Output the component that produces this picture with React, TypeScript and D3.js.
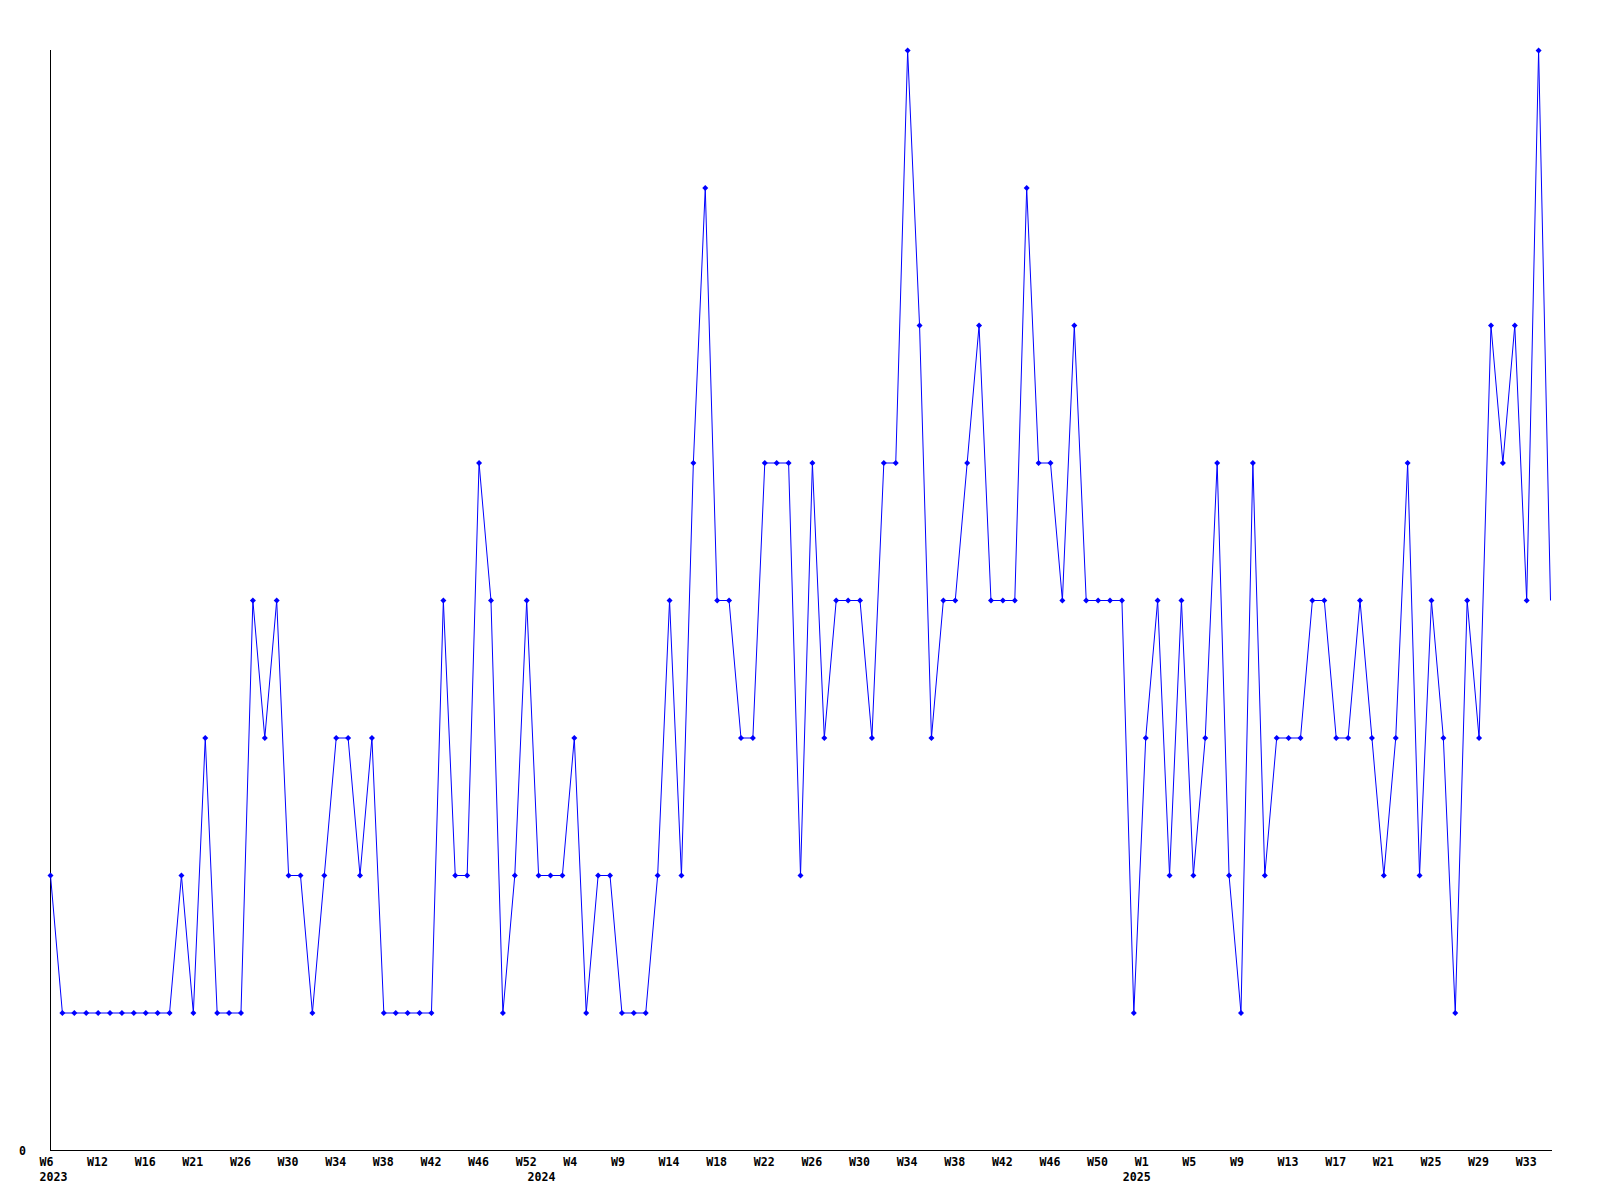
import React from "react";
import * as d3 from "d3";

const weeks2023 = [6, 7, 9, 10, 12, 13, 14, 15, 16, 17, 19, 20, 21, 22, 23, 25, 26, 27, 28, 29, 30, 31, 32, 33, 34, 35, 36, 37, 38, 39, 40, 41, 42, 43, 44, 45, 46, 47, 49, 51, 52];
const weeks2024 = [1, 2, 3, 4, 5, 6, 8, 9, 10, 11, 13, 14, 15, 16, 17, 18, 19, 20, 21, 22, 23, 24, 25, 26, 27, 28, 29, 30, 31, 32, 33, 34, 35, 36, 37, 38, 39, 40, 41, 42, 43, 44, 45, 46, 47, 48, 49, 50, 51, 52];
const weeks2025 = [0, 1, 2, 3, 4, 5, 6, 7, 8, 9, 10, 11, 12, 13, 14, 15, 16, 17, 18, 19, 20, 21, 22, 23, 24, 25, 26, 27, 28, 29, 30, 31, 32, 33, 34, 35];

const values = [
  2, 1, 1, 1, 1, 1, 1, 1, 1, 1, 1, 2, 1, 3, 1, 1, 1, 4, 3, 4,
  2, 2, 1, 2, 3, 3, 2, 3, 1, 1, 1, 1, 1, 4, 2, 2, 5, 4, 1, 2,
  4, 2, 2, 2, 3, 1, 2, 2, 1, 1, 1, 2, 4, 2, 5, 7, 4, 4, 3, 3,
  5, 5, 5, 2, 5, 3, 4, 4, 4, 3, 5, 5, 8, 6, 3, 4, 4, 5, 6, 4,
  4, 4, 7, 5, 5, 4, 6, 4, 4, 4, 4, 1, 3, 4, 2, 4, 2, 3, 5, 2,
  1, 5, 2, 3, 3, 3, 4, 4, 3, 3, 4, 3, 2, 3, 5, 2, 4, 3, 1, 4,
  3, 6, 5, 6, 4, 8, 4,
];

const yTicks = [0];
const labelEvery = 4;

type Pt = { week: string; year: number | null; value: number };

const points: Pt[] = [];
[
  [2023, weeks2023],
  [2024, weeks2024],
  [2025, weeks2025],
].forEach(([yr, wk]) => {
  (wk as number[]).forEach((w, j) => {
    points.push({ week: "W" + w, year: j === 0 ? (yr as number) : null, value: 0 });
  });
});
points.forEach((p, i) => (p.value = values[i]));

const W = 1600;
const H = 1200;
const left = 50.5;
const right = 1550.5;
const top = 50.5;
const bottom = 1150.5;

export default function App() {
  const x = d3.scaleLinear().domain([0, points.length - 1]).range([left, right]);
  const y = d3.scaleLinear().domain([0, 8]).range([bottom, top]);
  const line = d3
    .line<Pt>()
    .x((_, i) => x(i))
    .y((d) => y(d.value));
  const font = "'DejaVu Sans Mono', monospace";
  const diamond = (cx: number, cy: number) =>
    `M${cx},${cy - 3}L${cx + 3},${cy}L${cx},${cy + 3}L${cx - 3},${cy}Z`;
  return (
    <svg
      width={W}
      height={H}
      style={{ position: "absolute", left: 0, top: 0, background: "#fff" }}
    >
      <rect x={0} y={0} width={W} height={H} fill="#fff" />
      <line x1={left} y1={top - 0.5} x2={left} y2={bottom} stroke="#000" strokeWidth={1} shapeRendering="crispEdges" />
      <line x1={left} y1={bottom} x2={right + 1} y2={bottom} stroke="#000" strokeWidth={1} shapeRendering="crispEdges" />
      {yTicks.map((t) => (
        <text key={t} x={19} y={y(t) + 4} fontFamily={font} fontWeight="bold" fontSize={11.6} fill="#000">
          {t}
        </text>
      ))}
      {points.map((p, i) =>
        i % labelEvery === 0 ? (
          <text key={"w" + i} x={x(i) - 11} y={1166} fontFamily={font} fontWeight="bold" fontSize={11.6} fill="#000">
            {p.week}
          </text>
        ) : null
      )}
      {points.map((p, i) =>
        p.year !== null ? (
          <text key={"y" + i} x={x(i) - 11} y={1181} fontFamily={font} fontWeight="bold" fontSize={11.6} fill="#000">
            {p.year}
          </text>
        ) : null
      )}
      <path d={line(points) || ""} fill="none" stroke="#0000ff" strokeWidth={1} />
      {points.slice(0, points.length - 1).map((p, i) => (
        <path key={"m" + i} d={diamond(x(i), y(p.value))} fill="#0000ff" />
      ))}
    </svg>
  );
}
